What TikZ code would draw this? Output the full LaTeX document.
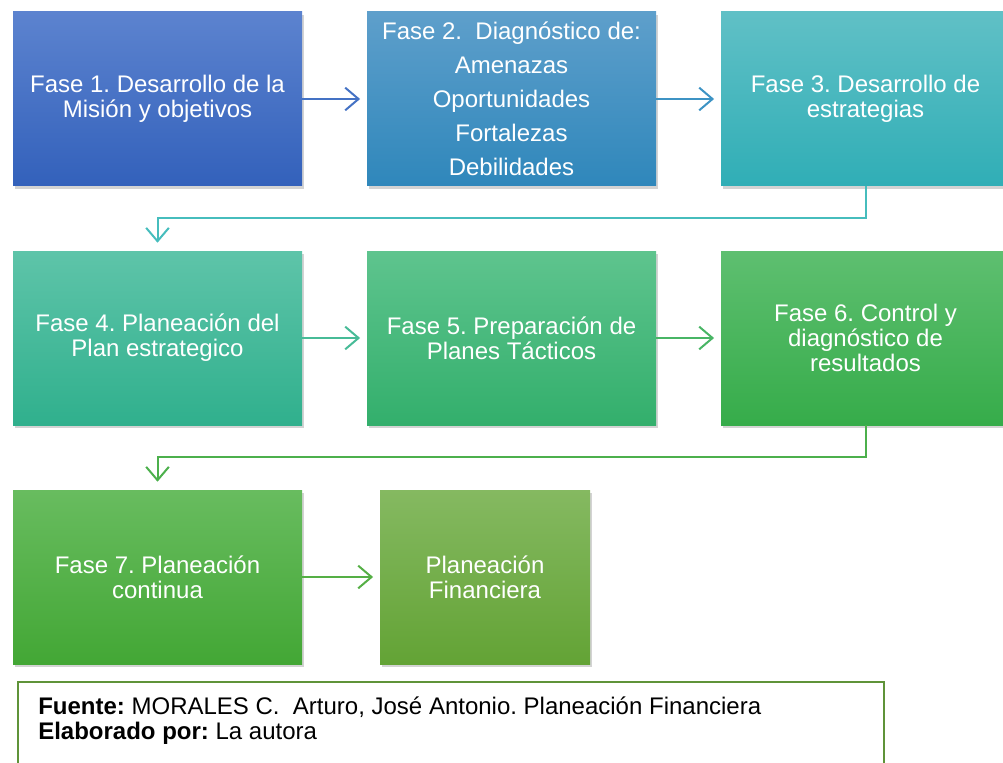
\documentclass[tikz,border=0pt]{standalone}
\usepackage{fontspec}
\setmainfont{Liberation Sans}
\usetikzlibrary{arrows.meta,shadows}
\frenchspacing

\definecolor{azulA}{HTML}{5C83CF}\definecolor{azulB}{HTML}{3361BB}
\definecolor{celesteA}{HTML}{5E9FCB}\definecolor{celesteB}{HTML}{2F87BB}
\definecolor{turqA}{HTML}{60C0C6}\definecolor{turqB}{HTML}{30AEB6}
\definecolor{aguaA}{HTML}{5EC4A9}\definecolor{aguaB}{HTML}{30B08D}
\definecolor{mentaA}{HTML}{5EC48E}\definecolor{mentaB}{HTML}{33AF6C}
\definecolor{verdeA}{HTML}{5EBF70}\definecolor{verdeB}{HTML}{36AC4A}
\definecolor{pastoA}{HTML}{68BC5F}\definecolor{pastoB}{HTML}{43A735}
\definecolor{olivoA}{HTML}{85B961}\definecolor{olivoB}{HTML}{63A335}
\definecolor{bordeFuente}{HTML}{5F9339}

\begin{document}
\begin{tikzpicture}[x=0.75pt,y=0.75pt,
    fase/.style={minimum width=216.75pt, minimum height=130.5pt, inner sep=0pt,
        align=center, text=white, font=\fontsize{18}{18.75}\selectfont,
        drop shadow={shadow xshift=1.5pt, shadow yshift=-2pt, opacity=0.35}},
    flecha/.style={line width=1.5pt, -{Straight Barb[length=10pt,width=17pt,line width=1.5pt]}, shorten >=5pt}]
    \useasboundingbox (0,0) rectangle (1003,-763);
    % fila 1
    \node[fase, top color=azulA, bottom color=azulB] (f1) at (157.5,-99) {Fase 1. Desarrollo de la\\Misión y objetivos};
    \node[fase, top color=celesteA, bottom color=celesteB, font=\fontsize{18}{25.5}\selectfont] (f2) at (511.5,-99)
        {Fase 2.\ \ Diagnóstico de:\\Amenazas\\Oportunidades\\Fortalezas\\Debilidades};
    \node[fase, top color=turqA, bottom color=turqB] (f3) at (865.5,-99) {Fase 3. Desarrollo de\\estrategias};
    % fila 2
    \node[fase, top color=aguaA, bottom color=aguaB] (f4) at (157.5,-338) {Fase 4. Planeación del\\Plan estrategico};
    \node[fase, top color=mentaA, bottom color=mentaB] (f5) at (511.5,-338) {Fase 5. Preparación de\\Planes Tácticos};
    \node[fase, top color=verdeA, bottom color=verdeB] (f6) at (865.5,-338) {Fase 6. Control y\\diagnóstico de\\resultados};
    % fila 3
    \node[fase, top color=pastoA, bottom color=pastoB] (f7) at (157.5,-577) {Fase 7. Planeación\\continua};
    \node[fase, top color=olivoA, bottom color=olivoB, minimum width=157.5pt] (pf) at (485,-577) {Planeación\\Financiera};

    \draw[flecha, color={rgb,255:red,68;green,114;blue,196}] (f1) -- (f2);
    \draw[flecha, color={rgb,255:red,61;green,147;blue,196}] (f2) -- (f3);
    \draw[flecha, color={rgb,255:red,70;green,189;blue,189}, shorten >=6pt] (f3.south) -- ++(0,-32) -| (f4.north);
    \draw[flecha, color={rgb,255:red,71;green,187;blue,151}] (f4) -- (f5);
    \draw[flecha, color={rgb,255:red,72;green,181;blue,101}] (f5) -- (f6);
    \draw[flecha, color={rgb,255:red,76;green,176;blue,76}, shorten >=6pt] (f6.south) -- ++(0,-32) -| (f7.north);
    \draw[flecha, color={rgb,255:red,85;green,175;blue,69}] (f7) -- (pf);

    % fuente
    \draw[bordeFuente, line width=1.5pt] (18,-682) rectangle (884,-800);
    \node[anchor=north west, inner sep=0pt, align=left, font=\fontsize{18}{18.75}\selectfont] (fuente) at (38,-697)
        {\textbf{Fuente:} MORALES C.\ \ Arturo, José Antonio. Planeación Financiera\\\textbf{Elaborado por:} La autora};
\end{tikzpicture}
\end{document}
